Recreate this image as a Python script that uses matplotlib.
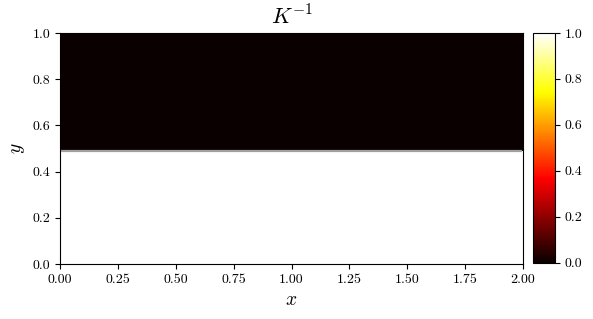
import numpy as np
import matplotlib
matplotlib.use("Agg")
import matplotlib.pyplot as plt

plt.rcParams['font.family'] = 'serif'
plt.rcParams['font.serif'] = ['cmr10']
plt.rcParams['mathtext.fontset'] = 'cm'
plt.rcParams['axes.formatter.use_mathtext'] = True

# domain and field values
x_range = [0.0, 2.0]
y_range = [0.0, 1.0]
interface_y = 0.495
value_below = 1.0   # K^-1 below interface
value_above = 0.0   # K^-1 above interface
nx, ny = 200, 100

xe = np.linspace(x_range[0], x_range[1], nx + 1)
ye = np.linspace(y_range[0], y_range[1], ny + 1)
xc = 0.5 * (xe[:-1] + xe[1:])
yc = 0.5 * (ye[:-1] + ye[1:])
X, Y = np.meshgrid(xc, yc)
Z = np.where(Y < interface_y, value_below, value_above)

fig = plt.figure(figsize=(5.93, 3.19), dpi=100)
ax = fig.add_axes([0.1012, 0.1724, 0.7808, 0.7242])
cax = fig.add_axes([0.8988, 0.1770, 0.0370, 0.7196])

mesh = ax.pcolormesh(xe, ye, Z, cmap='hot', vmin=0, vmax=1, shading='flat')
ax.contour(X, Y, Z, levels=[0.5], colors=['#a0a0a0'], linewidths=1.6)
ax.set_xlim(*x_range)
ax.set_ylim(*y_range)
ax.set_xticks([0.0, 0.25, 0.5, 0.75, 1.0, 1.25, 1.5, 1.75, 2.0])
ax.set_xticklabels(['0.00', '0.25', '0.50', '0.75', '1.00', '1.25', '1.50', '1.75', '2.00'])
ax.set_yticks([0.0, 0.2, 0.4, 0.6, 0.8, 1.0])
ax.set_yticklabels(['0.0', '0.2', '0.4', '0.6', '0.8', '1.0'])
ax.set_xlabel('$x$', fontsize=14)
ax.set_ylabel('$y$', fontsize=14)
ax.set_title('$K^{-1}$', fontsize=16)

cb = fig.colorbar(mesh, cax=cax)
cb.set_ticks([0.0, 0.2, 0.4, 0.6, 0.8, 1.0])
cb.set_ticklabels(['0.0', '0.2', '0.4', '0.6', '0.8', '1.0'])

fig.savefig('out.png', dpi=100)
